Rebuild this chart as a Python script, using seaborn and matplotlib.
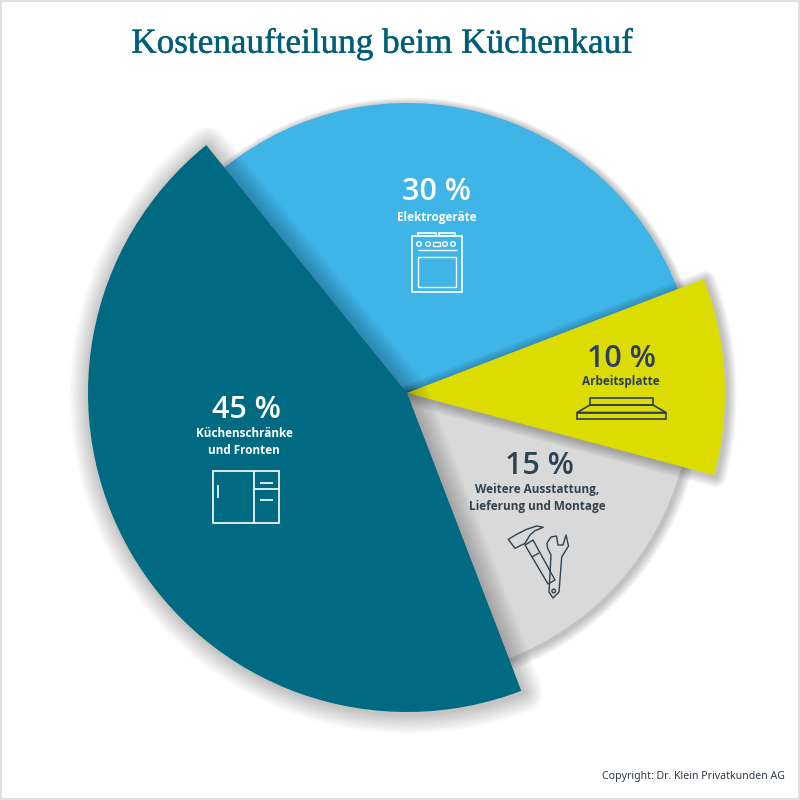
import seaborn as sns
import matplotlib.pyplot as plt
import matplotlib.patheffects as pe
from matplotlib.patches import Rectangle, Circle, Polygon

# data, clockwise from the top left
categories = ['Elektrogeräte', 'Arbeitsplatte', 'Weitere Ausstattung,\nLieferung und Montage', 'Küchenschränke\nund Fronten']
values = [30, 10, 15, 45]
title = 'Kostenaufteilung beim Küchenkauf'
copyright_text = 'Copyright: Dr. Klein Privatkunden AG'

colors = ['#3FB4E7', '#DCDC00', '#D9D9D9', '#006A82']
text_colors = ['white', '#2C3E63', '#2E4250', 'white']
radii = [290, 318, 284, 319]
layers = [1, 3, 2, 4]
# shadow blur per slice
blur = [8, 12, 12, 24]
pct_pos = [(437, 192), (621, 359), (539, 466), (246, 410)]
name_pos = [(437, 217), (621, 382), (537, 498), (244, 442)]

sns.set_theme(style='white')
plt.rcParams['font.family'] = ['Open Sans', 'DejaVu Sans']
palette = sns.color_palette(colors)

fig = plt.figure(figsize=(8, 8), dpi=100)
ax = fig.add_axes([0, 0, 1, 1])

# y axis is inverted, so the angles run clockwise on screen
wedges, _ = ax.pie(values, colors=palette, center=(407, 393), radius=320,
                   startangle=-129, counterclock=True)
ax.set_xlim(0, 800)
ax.set_ylim(800, 0)
ax.set_aspect('equal')
ax.axis('off')

for w, r, z, b in zip(wedges, radii, layers, blur):
    w.set_radius(r)
    w.set_zorder(z)
    w.set_linewidth(0)
    w.set_joinstyle('round')
    fx = []
    for k in range(b, 0, -2):
        fx.append(pe.SimpleLineShadow(offset=(1.2, -1.2), shadow_color='black', alpha=0.25 / (b / 2), rho=1, linewidth=k * 1.2))
    fx.append(pe.Normal())
    w.set_path_effects(fx)

ax.text(382, 44, title, color='#005F76', fontsize=25.3, ha='center', va='center',
        family=['Liberation Serif'], zorder=6,
        path_effects=[pe.withStroke(linewidth=0.3, foreground='#005F76')])
ax.text(785, 777, copyright_text, color='#2E3A45', fontsize=7.6, ha='right', va='center',
        family=['Noto Sans'], zorder=6)

for v, name, c, p, n in zip(values, categories, text_colors, pct_pos, name_pos):
    ax.text(p[0], p[1], f'{v} %', color=c, fontsize=22, fontweight='semibold', ha='center', va='center', zorder=6)
    ax.text(n[0], n[1], name, color=c, fontsize=8.5, fontweight='bold', ha='center', va='center',
            linespacing=1.45, zorder=6)


def box(x0, y0, x1, y1, c, lw=1.2):
    ax.add_patch(Rectangle((x0, y0), x1 - x0, y1 - y0, fill=False, ec=c, lw=lw, zorder=6))


def line(pts, c, lw=1.2, closed=False):
    ax.add_patch(Polygon(pts, closed=closed, fill=False, ec=c, lw=lw, zorder=6, joinstyle='round'))


# oven
box(412, 236, 462, 292, 'white')
box(418, 232.5, 436, 236, 'white')
box(439, 232.5, 455, 236, 'white')
for cx in [419, 428, 445, 453]:
    ax.add_patch(Circle((cx, 244), 2.3, fill=False, ec='white', lw=1, zorder=6))
box(433, 242, 440, 246, 'white', lw=1)
line([(418, 250), (457, 250)], 'white', lw=1)
box(418, 257, 456, 287, 'white', lw=1)

# worktop
ink = '#2C3E63'
box(590, 397.5, 653, 405, ink)
line([(590, 405), (653, 405), (666, 412.5), (577, 412.5)], ink, closed=True)
box(577, 412.5, 666, 418.5, ink)

# cabinet
box(213, 471, 279, 523, 'white')
line([(254, 471), (254, 523)], 'white')
line([(254, 489), (279, 489)], 'white')
line([(218, 485), (218, 498)], 'white')
line([(260, 483), (273, 483)], 'white')
line([(260, 500), (273, 500)], 'white')

# hammer and spanner
tool = '#2E4250'
line([(508.3, 539.3), (516.7, 534.3), (526.7, 529.3), (536.7, 526), (543.3, 527.3), (535, 530.7), (530, 535),
      (525, 543.3), (515, 548.3)], tool, lw=1, closed=True)
line([(525, 545), (533, 540), (555, 580), (548, 584)], tool, lw=1, closed=True)
line([(532, 557), (539, 553)], tool, lw=1)
line([(547, 543), (551, 537), (556.5, 536), (558, 545), (563, 545), (566, 535), (568.5, 546), (561.7, 557),
      (559, 592), (553, 598), (549, 592), (551, 555), (547.5, 548)], tool, lw=1, closed=True)
ax.add_patch(Circle((553.7, 591), 1.8, fill=False, ec=tool, lw=1, zorder=6))

# thin frame of the picture
ax.add_patch(Rectangle((0.5, 0.5), 798.5, 798.5, fill=False, ec='#DFDFDF', lw=1.4, zorder=7))

fig.savefig('out.png', dpi=100)
